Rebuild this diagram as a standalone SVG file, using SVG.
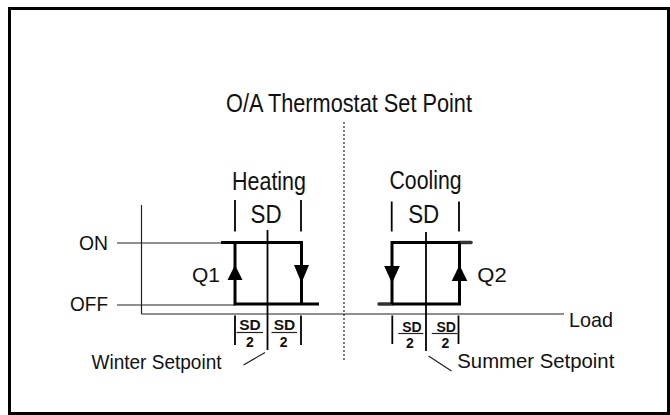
<svg xmlns="http://www.w3.org/2000/svg" width="670" height="415" viewBox="0 0 670 415">
<style>
text{font-family:"Liberation Sans",Arial,sans-serif;fill:#111}
.big{font-size:25px}
.med{font-size:21px}
.frac{font-size:14px;font-weight:bold}
.thin{stroke:#222;stroke-width:1.2;fill:none}
.tick{stroke:#000;stroke-width:1.8;fill:none}
.thick{stroke:#000;stroke-width:3;fill:none}
.end{stroke:#333;stroke-width:3.6;stroke-linecap:round;fill:none}
.bar{stroke:#222;stroke-width:1.2}
.arrow{fill:#000}
</style>
<rect x="0" y="0" width="670" height="415" fill="#fff"/>
<rect id="frame" x="9.5" y="8.5" width="659" height="405" fill="none" stroke="#000" stroke-width="3"/>
<g id="title">
<text class="big" x="349" y="111.5" text-anchor="middle" textLength="246" lengthAdjust="spacingAndGlyphs">O/A Thermostat Set Point</text>
</g>
<g id="connectors">
<line class="thin" x1="344" y1="122" x2="344" y2="360" stroke-dasharray="2,2"/>
<line class="thin" x1="141.5" y1="205" x2="141.5" y2="314"/>
<line class="thin" x1="141.5" y1="314" x2="564" y2="314"/>
<line class="thin" x1="117" y1="243" x2="221" y2="243"/>
<line class="thin" x1="117" y1="305" x2="235" y2="305"/>
<line class="thin" x1="243.5" y1="365" x2="265" y2="352.5"/>
<line class="thin" x1="428.5" y1="356" x2="451.5" y2="371"/>
</g>
<g id="axis-labels">
<text class="med" x="79" y="250" textLength="29" lengthAdjust="spacingAndGlyphs">ON</text>
<text class="med" x="70" y="311" textLength="38" lengthAdjust="spacingAndGlyphs">OFF</text>
<text class="med" x="569" y="327" textLength="44" lengthAdjust="spacingAndGlyphs">Load</text>
</g>
<g id="heating">
<text class="big" x="269" y="189.5" text-anchor="middle" textLength="74" lengthAdjust="spacingAndGlyphs">Heating</text>
<text class="big" x="266" y="223" text-anchor="middle" textLength="31" lengthAdjust="spacingAndGlyphs">SD</text>
<line class="tick" x1="235" y1="200" x2="235" y2="231.5"/>
<line class="tick" x1="301" y1="200" x2="301" y2="231.5"/>
<line class="tick" x1="267.5" y1="230" x2="267.5" y2="350"/>
<polyline class="thick" points="221,242.5 301.5,242.5 301.5,304"/>
<polyline class="thick" points="235,242.5 235,304 319,304"/>
<polygon class="arrow" points="235,265 227.5,280 242.5,280"/>
<polygon class="arrow" points="301.5,283 294,265 309,265"/>
<text class="med" x="192" y="282" textLength="28" lengthAdjust="spacingAndGlyphs">Q1</text>
<line class="tick" x1="235" y1="315.5" x2="235" y2="345"/>
<line class="tick" x1="301" y1="315.5" x2="301" y2="345"/>
<text class="frac" x="250" y="330" text-anchor="middle" textLength="21.5" lengthAdjust="spacingAndGlyphs">SD</text>
<line class="bar" x1="236.5" y1="332.5" x2="263" y2="332.5"/>
<text class="frac" x="250" y="346.5" text-anchor="middle">2</text>
<text class="frac" x="284.5" y="330" text-anchor="middle" textLength="21.5" lengthAdjust="spacingAndGlyphs">SD</text>
<line class="bar" x1="271.5" y1="332.5" x2="297" y2="332.5"/>
<text class="frac" x="283.7" y="346.5" text-anchor="middle">2</text>
<text class="med" x="91.5" y="368.5" textLength="130" lengthAdjust="spacingAndGlyphs">Winter Setpoint</text>
</g>
<g id="cooling">
<text class="big" x="425.5" y="188.5" text-anchor="middle" textLength="72" lengthAdjust="spacingAndGlyphs">Cooling</text>
<text class="big" x="423.7" y="223.3" text-anchor="middle" textLength="31" lengthAdjust="spacingAndGlyphs">SD</text>
<line class="tick" x1="391.7" y1="201.5" x2="391.7" y2="231.5"/>
<line class="tick" x1="459" y1="201.5" x2="459" y2="231.5"/>
<line class="tick" x1="426" y1="232" x2="426" y2="351"/>
<line class="end" x1="459" y1="242.5" x2="471" y2="242.5"/>
<line class="end" x1="379" y1="304" x2="392" y2="304"/>
<polyline class="thick" points="392,304 392,242.5 459.5,242.5"/>
<polyline class="thick" points="392,304 459.5,304 459.5,242.5"/>
<polygon class="arrow" points="392,283.3 384.2,266 399.8,266"/>
<polygon class="arrow" points="459.5,265 451.7,281 467.3,281"/>
<text class="med" x="477.3" y="282" textLength="29.4" lengthAdjust="spacingAndGlyphs">Q2</text>
<line class="tick" x1="392.3" y1="315.5" x2="392.3" y2="344"/>
<line class="tick" x1="458.5" y1="315.5" x2="458.5" y2="344"/>
<text class="frac" x="412" y="331.5" text-anchor="middle" textLength="19.5" lengthAdjust="spacingAndGlyphs">SD</text>
<line class="bar" x1="398.3" y1="333.5" x2="423.3" y2="333.5"/>
<text class="frac" x="410" y="348.3" text-anchor="middle">2</text>
<text class="frac" x="446.2" y="331.5" text-anchor="middle" textLength="19.5" lengthAdjust="spacingAndGlyphs">SD</text>
<line class="bar" x1="431.7" y1="333.5" x2="457.3" y2="333.5"/>
<text class="frac" x="445.3" y="348.3" text-anchor="middle">2</text>
<text class="med" x="457.3" y="368.3" textLength="157" lengthAdjust="spacingAndGlyphs">Summer Setpoint</text>
</g>
</svg>
